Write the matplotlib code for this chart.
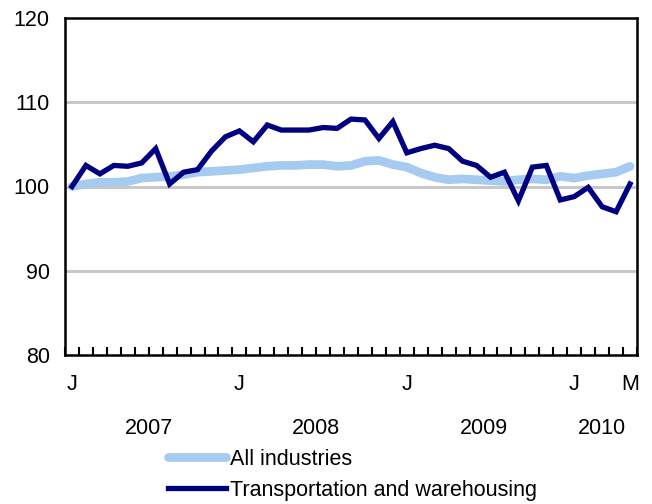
import matplotlib
matplotlib.use("Agg")
import matplotlib.pyplot as plt
import matplotlib.transforms as mtransforms

plt.rcParams['font.family'] = ['Liberation Sans', 'DejaVu Sans']

months = list(range(41))  # Jan 2007 .. May 2010
all_industries = [100.0, 100.3, 100.5, 100.5, 100.6, 101.0, 101.1, 101.2, 101.4, 101.7,
                  101.8, 101.9, 102.0, 102.2, 102.4, 102.5, 102.5, 102.6, 102.6, 102.4,
                  102.5, 103.0, 103.1, 102.6, 102.3, 101.6, 101.1, 100.8, 100.9, 100.8,
                  100.7, 100.6, 100.8, 100.9, 100.8, 101.2, 101.0, 101.3, 101.5, 101.7,
                  102.4]
transport = [100.0, 102.5, 101.5, 102.5, 102.4, 102.8, 104.5, 100.3, 101.7, 102.0,
             104.2, 105.9, 106.6, 105.3, 107.3, 106.7, 106.7, 106.7, 107.0, 106.9,
             108.0, 107.9, 105.7, 107.7, 104.0, 104.5, 104.9, 104.5, 103.0, 102.5,
             101.1, 101.7, 98.3, 102.3, 102.5, 98.4, 98.8, 99.9, 97.6, 97.0,
             100.3]
month_tick_pos = [0, 12, 24, 36, 40]
month_tick_labels = ['J', 'J', 'J', 'J', 'M']
year_pos = [5.5, 17.5, 29.5, 38]
year_labels = ['2007', '2008', '2009', '2010']
y_ticks = [80, 90, 100, 110, 120]

FS = 15.5

fig = plt.figure(figsize=(6.52, 5.04), dpi=100)
ax = fig.add_axes([65/652, (504-355)/504, (637-65)/652, (355-18)/504])

for y in [90, 100, 110]:
    ax.axhline(y, color='#C8C8C8', lw=2.2, zorder=1)

ax.plot(months, all_industries, color='#A6CAF0', lw=6.3, solid_capstyle='round',
        solid_joinstyle='round', label='All industries', zorder=3)
ax.plot(months, transport, color='#000080', lw=3.8, solid_joinstyle='miter',
        label='Transportation and warehousing', zorder=4)

ax.set_xlim(-0.5, 40.5)
ax.set_ylim(80, 120)
ax.set_yticks(y_ticks)
ax.set_yticklabels([str(v) for v in y_ticks], fontsize=FS)
ax.tick_params(axis='y', length=0, pad=11)

ax.set_xticks([i - 0.5 for i in range(42)])
ax.set_xticklabels([])
ax.tick_params(axis='x', direction='in', length=6, width=1.5, color='black')

for s in ax.spines.values():
    s.set_color('black')
    s.set_linewidth(1.8)

trans = mtransforms.blended_transform_factory(ax.transData, fig.transFigure)
for p, l in zip(month_tick_pos, month_tick_labels):
    fig.text(p, 1 - 385/504, l, transform=trans, ha='center', va='center', fontsize=FS)
for p, l in zip(year_pos, year_labels):
    fig.text(p, 1 - 428/504, l, transform=trans, ha='center', va='center', fontsize=FS)

leg = fig.legend(loc='upper left', bbox_to_anchor=(168/652, 1 - 449/504), frameon=False,
                 fontsize=FS, handlelength=2.7, handletextpad=0.2, labelspacing=0.45,
                 borderaxespad=0, borderpad=0)

fig.savefig('out.png', dpi=100)
